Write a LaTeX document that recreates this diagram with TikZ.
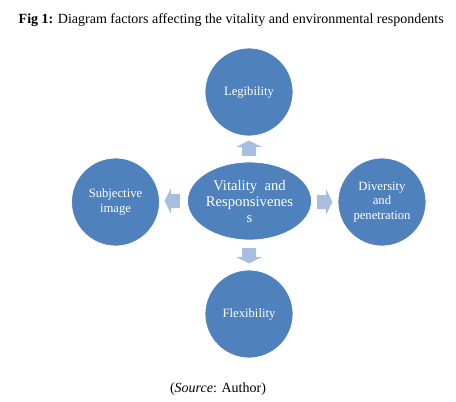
\documentclass[tikz,border=0pt]{standalone}
\usepackage{fontspec}
\setmainfont{Liberation Serif}
\usetikzlibrary{shapes.geometric,shapes.arrows}
\definecolor{factorblue}{RGB}{79,129,189}
\definecolor{arrowblue}{RGB}{167,190,222}
\tikzset{factor/.style={circle,fill=factorblue,draw=white,line width=0.6pt,
  minimum size=66pt,inner sep=1pt,text=white,align=center,
  font=\fontsize{9.5}{11}\selectfont},
  pointer/.style={single arrow,fill=arrowblue,draw=none,inner xsep=0pt,
  inner ysep=4.5pt,minimum height=11.5pt,minimum width=19pt,
  single arrow head extend=3.8pt,single arrow tip angle=128}}
\begin{document}
\begin{tikzpicture}[x=0.75pt,y=-0.75pt]
  \useasboundingbox (0,0) rectangle (456,401);
  % title and source
  \node[anchor=west,font=\fontsize{10.5}{12}\selectfont] (title) at (14,20)
    {\textbf{Fig 1:} Diagram factors affecting the vitality and environmental respondents};
  \node[font=\fontsize{10.5}{12}\selectfont] (source) at (218,389) {(\textit{Source}: Author)};
  % centre
  \node[ellipse,fill=factorblue,draw=white,line width=0.6pt,minimum width=93pt,
    minimum height=58.5pt,inner sep=0pt,text=white,align=center,
    font=\fontsize{11}{12}\selectfont] (vital) at (249.5,201)
    {Vitality~ and\\Responsivenes\\s};
  % factors
  \node[factor] (legib) at (249,92) {Legibility};
  \node[factor] (divers) at (382,202) {Diversity\\and\\penetration};
  \node[factor] (subj) at (115.5,202) {Subjective\\image};
  \node[factor] (flex) at (249,314) {Flexibility};
  % arrows
  \node[pointer,rotate=90] (toleg) at (249,150) {};
  \node[pointer,rotate=-90] (toflex) at (249,254) {};
  \node[pointer,rotate=180] (tosubj) at (174,201) {};
  \node[pointer] (todiv) at (323,202) {};
\end{tikzpicture}
\end{document}
